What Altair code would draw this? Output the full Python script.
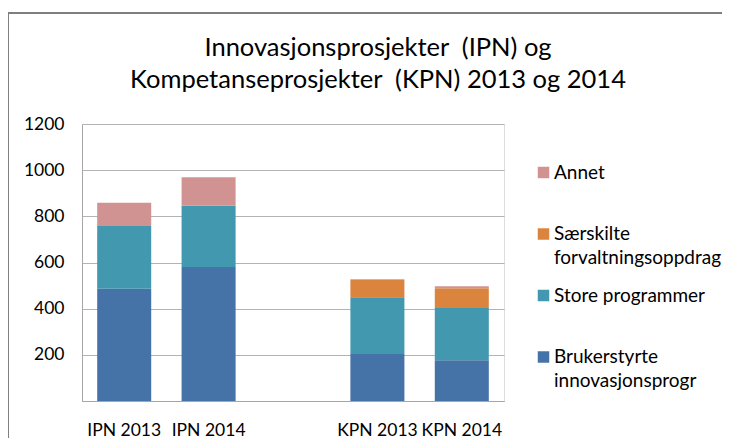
import altair as alt
import pandas as pd

categories = ["IPN 2013", "IPN 2014", "KPN 2013", "KPN 2014"]
x_domain = ["IPN 2013", "IPN 2014", " ", "KPN 2013", "KPN 2014"]
series = ["Brukerstyrte innovasjonsprogr", "Store programmer",
          "Særskilte forvaltningsoppdrag", "Annet"]
brukerstyrte = [486, 580, 204, 176]
store_programmer = [272, 266, 246, 227]
saerskilte = [0, 0, 74, 85]
annet = [101, 123, 3, 9]
colors = ["#4572A7", "#4198AF", "#DB843D", "#D19392"]
y_ticks = [0, 200, 400, 600, 800, 1000, 1200]

rows = []
for i, s in enumerate(series):
    vals = [brukerstyrte, store_programmer, saerskilte, annet][i]
    for c, v in zip(categories, vals):
        rows.append({"kategori": c, "serie": s, "idx": i, "verdi": v})
df = pd.DataFrame(rows)

legend_order = list(reversed(series))
legend_colors = list(reversed(colors))

label_expr = (
    "datum.label == 'Særskilte forvaltningsoppdrag' ? ['Særskilte', 'forvaltningsoppdrag'] : "
    "datum.label == 'Brukerstyrte innovasjonsprogr' ? ['Brukerstyrte', 'innovasjonsprogr'] : "
    "[datum.label, '']"
)

bars = alt.Chart(df).mark_bar().encode(
    x=alt.X("kategori:N", scale=alt.Scale(domain=x_domain, paddingInner=0.36, paddingOuter=0.18),
            axis=alt.Axis(title=None, labelAngle=0, ticks=False, domainColor="#A6A6A6",
                          labelFont="Lato", labelFontSize=17.5, labelColor="#000000",
                          labelPadding=20)),
    y=alt.Y("verdi:Q", stack="zero", scale=alt.Scale(domain=[0, 1200], nice=False),
            axis=alt.Axis(title=None, values=y_ticks, ticks=False, domainColor="#A6A6A6",
                          gridColor="#B3B3B3", labelFont="Lato", labelFontSize=17.5,
                          labelColor="#000000", labelPadding=18, format="d",
                          labelExpr="datum.value == 0 ? '' : datum.label")),
    color=alt.Color("serie:N", scale=alt.Scale(domain=legend_order, range=legend_colors),
                    legend=alt.Legend(title=None, orient="none", legendX=452, legendY=39,
                                      symbolType="square", symbolSize=132, symbolStrokeWidth=0,
                                      labelFont="Lato", labelFontSize=19, labelColor="#000000",
                                      labelLimit=300, labelOffset=1,
                                      rowPadding=17.5, labelExpr=label_expr)),
    order=alt.Order("idx:Q", sort="ascending"),
)

border = alt.Chart(alt.Data(values=[{}])).mark_rect(
    fill="transparent", stroke="#7F7F7F", strokeWidth=2
).encode(
    x=alt.value(-74), x2=alt.value(680), y=alt.value(-111), y2=alt.value(360)
)

chart = alt.layer(border, bars).properties(
    width=422, height=277,
    title=alt.TitleParams(
        text=["Innovasjonsprosjekter \u00a0(IPN) og", "Kompetanseprosjekter \u00a0(KPN) 2013 og 2014"],
        font="Lato", fontSize=25.5, fontWeight="normal", color="#000000",
        anchor="middle", dx=85, lineHeight=32, offset=-81, baseline="top"),
    autosize=alt.AutoSizeParams(type="none"),
    padding={"left": 74, "top": 116, "right": 218, "bottom": 37},
).configure_view(strokeWidth=0).configure(style={"guide-label": {"lineHeight": 24}})

chart.save("out.html", embed_options={"renderer": "svg", "actions": False})
